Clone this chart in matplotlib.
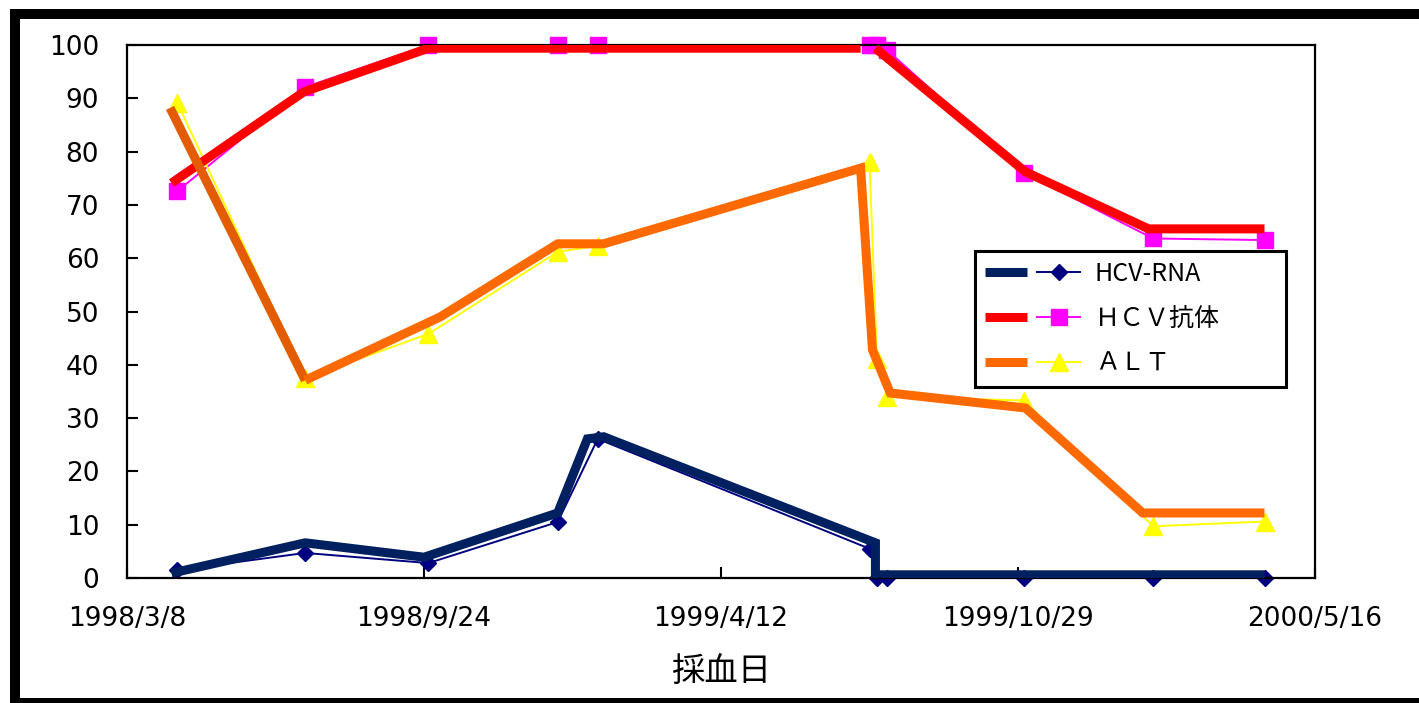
import matplotlib
matplotlib.use("Agg")
import numpy as np
import pandas as pd
import matplotlib.pyplot as plt
from matplotlib.legend_handler import HandlerTuple
from matplotlib.patches import Rectangle

plt.rcParams["font.family"] = ["DejaVu Sans", "Noto Sans CJK JP"]

# blood sampling dates and measured values
sample_dates = ["1998-04-11", "1998-07-06", "1998-09-27", "1998-12-23", "1999-01-19",
                "1999-07-21", "1999-07-26", "1999-08-02", "1999-11-02", "2000-01-28",
                "2000-04-12"]
hcv_rna = [1.5, 4.7, 2.8, 10.5, 26.1, 5.5, 0, 0, 0, 0, 0]
hcv_ab = [72.6, 92.1, 100, 100, 100, 100, 100, 99.0, 76.0, 63.7, 63.4]
alt = [89.1, 37.5, 45.8, 61.2, 62.3, 78.0, 41.1, 34.0, 33.3, 9.7, 10.6]

# thick hand-drawn trend lines laid over the series
rna_trend_dates = ["1998-04-07", "1998-07-06", "1998-09-24", "1998-12-23", "1999-01-12",
                   "1999-01-23", "1999-07-25", "1999-07-25", "2000-04-12"]
rna_trend = [0.9, 6.6, 3.9, 12.2, 26.1, 26.5, 6.6, 0.6, 0.6]

ab_trend_dates = ["1998-04-07", "1998-07-05", "1998-09-27", "1999-07-15", "1999-07-20",
                  "1999-07-25", "1999-11-03", "2000-01-25", "2000-04-12"]
ab_trend = [74.1, 91.2, 99.4, 99.4, np.nan, 99.4, 76.2, 65.5, 65.5]

alt_trend_first_dates = ["1998-04-06", "1998-07-06"]
alt_trend_first = [88.2, 37.1]
alt_trend_dates = ["1998-07-06", "1998-10-05", "1998-12-23", "1999-01-23", "1999-07-15",
                   "1999-07-23", "1999-08-04", "1999-11-03", "2000-01-21", "2000-04-12"]
alt_trend = [37.1, 49.0, 62.7, 62.7, 76.9, 42.8, 34.7, 31.9, 12.2, 12.2]

tick_dates = ["1998-03-08", "1998-09-24", "1999-04-12", "1999-10-29", "2000-05-16"]
tick_labels = ["1998/3/8", "1998/9/24", "1999/4/12", "1999/10/29", "2000/5/16"]
y_ticks = list(range(0, 101, 10))
labels = ["HCV-RNA", "ＨＣＶ抗体", "ＡＬＴ"]

d = pd.to_datetime

fig = plt.figure(figsize=(14.19, 7.03), dpi=100)
ax = fig.add_axes([127 / 1419, 125 / 703, 1188 / 1419, 533 / 703])

# thin series with markers
l_rna, = ax.plot(d(sample_dates), hcv_rna, color="#000080", lw=1.4, marker="D", ms=8,
                 zorder=2, clip_on=False)
l_ab, = ax.plot(d(sample_dates), hcv_ab, color="#FF00FF", lw=1.4, marker="s", ms=12,
                zorder=2, clip_on=False)
l_alt, = ax.plot(d(sample_dates), alt, color="#FFFF00", lw=1.4, marker="^", ms=13,
                 zorder=2, clip_on=False)

# thick overlay lines
thick = dict(lw=6.5, solid_joinstyle="miter", solid_capstyle="butt", zorder=3)
t_rna, = ax.plot(d(rna_trend_dates), rna_trend, color="#00205F", **thick)
t_ab, = ax.plot(d(ab_trend_dates), ab_trend, color="#FF0000", **thick)
ax.plot(d(alt_trend_first_dates), alt_trend_first, color="#E35C00", **thick)
t_alt, = ax.plot(d(alt_trend_dates), alt_trend, color="#FF6A00", **thick)

ax.set_xlim(d(tick_dates[0]), d(tick_dates[-1]))
ax.set_ylim(0, 100)
ax.set_xticks(d(tick_dates))
ax.set_xticklabels(tick_labels)
ax.set_yticks(y_ticks)
ax.tick_params(axis="both", direction="in", length=8, width=1.5, labelsize=19, pad=20)
for s in ax.spines.values():
    s.set_linewidth(1.6)

ax.set_xlabel("採血日", fontsize=24, family=["Noto Sans CJK JP"], labelpad=16)

leg = ax.legend([(t_rna, l_rna), (t_ab, l_ab), (t_alt, l_alt)], labels,
                handler_map={tuple: HandlerTuple(ndivide=None)},
                loc="upper left", bbox_to_anchor=(0.7138, 0.3565, 0.2618, 0.257),
                mode="expand", borderaxespad=0, fancybox=False, framealpha=1,
                edgecolor="black", handlelength=3.8, handletextpad=0.6,
                borderpad=0.4, labelspacing=0.75,
                prop={"family": ["Noto Sans CJK JP", "DejaVu Sans"], "size": 18})
leg.get_frame().set_linewidth(2.2)

# outer frame of the picture
fig.add_artist(Rectangle((15 / 1419, 0), 1.1, 1 - 14 / 703, transform=fig.transFigure,
                         fill=False, lw=7.2, ec="black"))

fig.savefig("out.png", dpi=100)
